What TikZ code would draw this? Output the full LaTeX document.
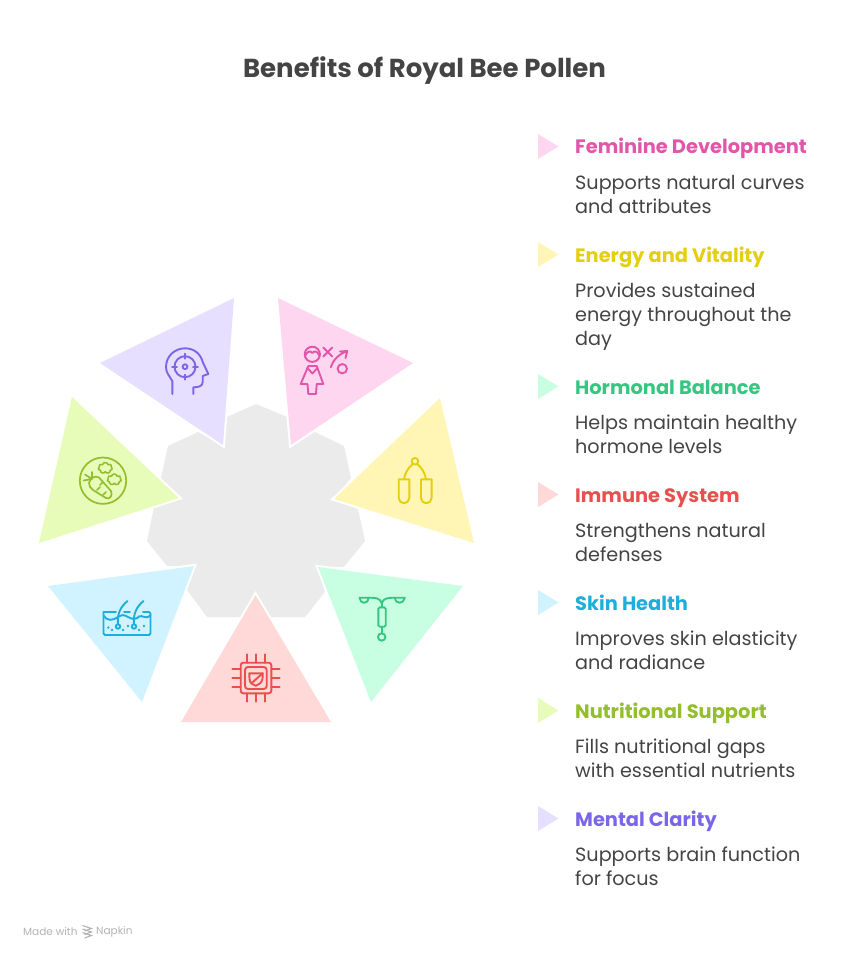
\documentclass[tikz,border=0pt]{standalone}
\usepackage{fontspec}
\setmainfont{Poppins}
\usetikzlibrary{shapes.symbols}

\definecolor{inkgray}{HTML}{444444}
\definecolor{hubgray}{HTML}{EBEBEB}
\definecolor{pinkfill}{HTML}{FFD6F0}
\definecolor{pinkline}{HTML}{E255A9}
\definecolor{yellowfill}{HTML}{FFF6B5}
\definecolor{yellowline}{HTML}{E3CF10}
\definecolor{mintfill}{HTML}{C8FFE3}
\definecolor{mintline}{HTML}{35C680}
\definecolor{redfill}{HTML}{FFD8D8}
\definecolor{redline}{HTML}{E8504F}
\definecolor{bluefill}{HTML}{D0F3FF}
\definecolor{blueline}{HTML}{1EAEDC}
\definecolor{limefill}{HTML}{E6FCB8}
\definecolor{limeline}{HTML}{93BE2D}
\definecolor{purplefill}{HTML}{E6DFFF}
\definecolor{purpleline}{HTML}{7B66E8}

\tikzset{
	petal/.style = {fill=#1, preaction={draw=white, fill=white, line width=4pt}},
	icon/.style = {draw=#1, line width=1.9pt, line join=round, line cap=round},
	heading/.style = {anchor=base west, inner sep=0pt, font=\fontsize{19.4}{24}\selectfont\bfseries},
	blurb/.style = {anchor=base west, inner sep=0pt, align=left, text=inkgray, font=\fontsize{19.2}{24}\selectfont}
}

\begin{document}
\begin{tikzpicture}
[x=1pt, y=-1pt]
\useasboundingbox (0,0) rectangle (849,960);

\node [anchor=base, inner sep=0pt, text=inkgray, font=\fontsize{26}{30}\selectfont\bfseries] (title) at (424.5, 78) {Benefits of Royal Bee Pollen};

% hub
\fill [hubgray] (256,404) -- (287,417) -- (291,440) -- (315,432) -- (344,446) -- (351,478) -- (334,499) -- (358,509) -- (365,541) -- (344,567) -- (318,567) -- (325,592) -- (305,617) -- (207,617) -- (187,590) -- (194,566) -- (167,566) -- (147,541) -- (154,507) -- (179,498) -- (161,478) -- (168,446) -- (198,432) -- (223,445) -- (227,417) -- cycle;

% petals
\fill [petal=purplefill] (234,298) -- (100,363) -- (223,445) -- cycle;
\fill [petal=pinkfill] (278,298) -- (413,363) -- (291,445) -- cycle;
\fill [petal=yellowfill] (440,398) -- (334,499) -- (474,543) -- cycle;
\fill [petal=mintfill] (318,567) -- (463,586) -- (371,702) -- cycle;
\fill [petal=redfill] (255.5,595) -- (331,722) -- (181,722) -- cycle;
\fill [petal=bluefill] (194,566) -- (48,586) -- (142,702) -- cycle;
\fill [petal=limefill] (72,397) -- (179,498) -- (39,543) -- cycle;

% head icon
\draw [icon=purpleline] (172.3,394) -- (172.3,381) .. controls (169,375) and (166,373) .. (166,367) .. controls (166,356) and (175,348.3) .. (185,348.3) .. controls (195,348.3) and (201,355) .. (202.7,362) -- (208.3,374) -- (202.7,376) -- (202.7,382) .. controls (202.7,386) and (199,387.3) .. (193.3,387.3) -- (193.3,394);
\draw [icon=purpleline] (185,366.7) circle (10.5) (185,366.7) circle (2.4);
\draw [icon=purpleline] (172,366.7) -- (177,366.7) (193,366.7) -- (198,366.7) (185,353.7) -- (185,358.7) (185,374.7) -- (185,379.7);

% figure icon
\draw [icon=pinkline] (312.3,354.3) circle (7.6);
\draw [icon=pinkline] (305,356) .. controls (308,350.5) and (310,350.5) .. (312.3,353) .. controls (314.5,350.5) and (317,350.5) .. (319.6,356);
\draw [icon=pinkline] (308.3,366) -- (316.7,366) -- (323.3,384) -- (316.7,384) -- (316,394) -- (308.3,394) -- (307.5,384) -- (300.7,384) -- cycle;
\draw [icon=pinkline] (307.5,368) -- (312.4,373.5) -- (317.3,368);
\draw [icon=pinkline] (323.2,347.5) -- (332.2,356.5) (332.2,347.5) -- (323.2,356.5);
\draw [icon=pinkline] (330.7,367.3) .. controls (333,360) and (339,354) .. (347.3,351) (340,351.5) -- (347.3,351) -- (345.5,358);
\draw [icon=pinkline] (342.3,368.7) circle (4.7);

% rope icon
\draw [icon=yellowline] (415,461.3) circle (3.3);
\draw [icon=yellowline] (412.7,464) .. controls (408,468) and (405,473) .. (404,479.3) (417.3,464) .. controls (422,468) and (425,473) .. (426,479.3);
\foreach \x in {398.7, 421}{
	\draw [icon=yellowline] (\x,479.3) -- (\x+10.6,479.3) -- (\x+10.6,498) arc (0:180:5.3) -- cycle;
}

% coil icon
\draw [icon=mintline] (359.5,597.7) -- (368.5,597.7) .. controls (376,597.7) and (380,598) .. (381.7,603.3) .. controls (383.4,598) and (388,597.7) .. (395,597.7) -- (404.7,597.7);
\draw [icon=mintline] (359.5,597.7) .. controls (360,604) and (368,605) .. (368.5,597.7) (395,597.7) .. controls (395.5,605) and (404,604) .. (404.7,597.7);
\draw [icon=mintline, rounded corners=1.5pt] (378.3,607.3) rectangle (385.7,626.7);
\draw [icon=mintline] (381.7,603.3) -- (381.7,607.3) (381.7,626.7) -- (381.7,633.3);
\draw [icon=mintline] (381.7,637) circle (3.7);

% chip icon
\draw [icon=redline, rounded corners=2.5pt] (240.7,662.7) rectangle (271.3,693.3);
\draw [icon=redline, rounded corners=3pt] (245,667) rectangle (266.7,689);
\draw [icon=redline] (249.3,673.3) -- (262.7,673.3) -- (262.5,679) .. controls (261.5,683) and (258.5,685) .. (255.7,685.8) .. controls (252.5,685) and (250,683) .. (249.5,679) -- cycle;
\draw [icon=redline] (251.7,683) -- (262.7,673.3);
\foreach \p in {246.7, 255.7, 265}{
	\draw [icon=redline] (\p,654.3) -- (\p,662.7) (\p,693.3) -- (\p,701.7);
}
\foreach \p in {668.7, 677.7, 686.7}{
	\draw [icon=redline] (232.3,\p) -- (240.7,\p) (271.3,\p) -- (279.7,\p);
}

% skin icon
\draw [icon=blueline, rounded corners=1.5pt] (103.5,612) -- (103.5,635) -- (150.5,635) -- (150.5,612) -- (143,612);
\draw [icon=blueline] (103.5,612) -- (116,612) (124,612) -- (130,612);
\draw [icon=blueline] (103.5,615.5) .. controls (107,621) and (112,621) .. (118,617) .. controls (122,614.5) and (124,614.5) .. (128,617) .. controls (133,620) and (137,619) .. (139,616.5) .. controls (142,614.5) and (146,620) .. (150.5,615.5);
\foreach \x/\z in {118/127.5, 134/143.5}{
	\draw [icon=blueline] (\x,624) .. controls (\x-1,615) and (\x+2,607) .. (\z,601) (\x,626.5) circle (2.2);
}
\foreach \x/\y in {108.3/627.5, 112/630, 123/630, 128/626, 139/630, 144/626}{
	\fill [blueline] (\x,\y) circle (1.3);
}

% carrot icon
\draw [icon=limeline, line width=1.7pt] (103,480.7) circle (23.2);
\draw [icon=limeline, line width=1.7pt] (89,483) .. controls (90,478) and (95,475) .. (99,477.5) -- (111,491) .. controls (113,495) and (110,500) .. (106,498) -- (93,490) .. controls (90.5,488) and (89,486) .. (89,483) -- cycle;
\draw [icon=limeline, line width=1.7pt] (92,479) -- (83.5,480.5) (92,479) -- (85,474.5) (92,479) -- (92,472);
\draw [icon=limeline, line width=1.7pt] (100,485) -- (103,482) (97,490) -- (100,487) (103,495) -- (106,492);
\node [cloud, icon=limeline, line width=1.6pt, cloud puffs=7, minimum width=14pt, minimum height=11pt, inner sep=0pt] (floret a) at (105.3,468) {};
\node [cloud, icon=limeline, line width=1.6pt, cloud puffs=7, minimum width=14pt, minimum height=11pt, inner sep=0pt] (floret b) at (114.3,479.5) {};

% legend (\l is the offset of the last baseline of the text)
\foreach \i/\y/\l/\c/\t/\d in {
	1/146.5/66.5/pink/{Feminine Development}/{Supports natural curves\\and attributes},
	2/254.5/90.5/yellow/{Energy and Vitality}/{Provides sustained\\energy throughout the\\day},
	3/386.5/66.5/mint/{Hormonal Balance}/{Helps maintain healthy\\hormone levels},
	4/494.5/66.5/red/{Immune System}/{Strengthens natural\\defenses},
	5/602.5/66.5/blue/{Skin Health}/{Improves skin elasticity\\and radiance},
	6/710.5/66.5/lime/{Nutritional Support}/{Fills nutritional gaps\\with essential nutrients},
	7/818.5/66.5/purple/{Mental Clarity}/{Supports brain function\\for focus}}{
	\fill [\c fill] (538,\y-12.5) -- (558.5,\y) -- (538,\y+12.5) -- cycle;
	\node [heading, text=\c line] (head \i) at (575, \y+7.5) {\t};
	\node [blurb] (text \i) at (575, \y+\l) {\d};
}

% footer
\node [anchor=west, inner sep=0pt, text=black!30, font=\fontsize{10.5}{12}\selectfont] (made) at (23, 932) {Made with};
\node [anchor=west, inner sep=0pt, text=black!30, font=\fontsize{10.5}{12}\selectfont] (napkin) at (96, 932) {Napkin};
\foreach \y in {0, 3.5, 7}{
	\draw [black!30, line width=1.1pt] (82.5,925.5+\y) -- (91.5,928.5+\y) -- (84.5,931+\y);
}
\end{tikzpicture}
\end{document}
